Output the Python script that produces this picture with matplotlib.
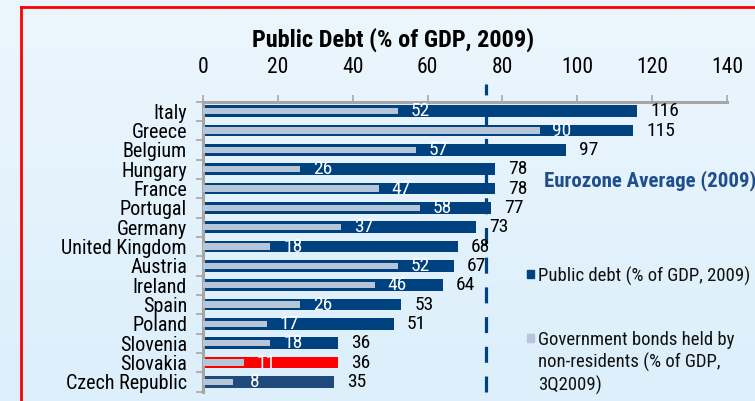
import matplotlib
matplotlib.use("Agg")
import matplotlib.pyplot as plt
from matplotlib.patches import Rectangle
from matplotlib.lines import Line2D
from matplotlib import font_manager as fm
import numpy as np

countries = ["Italy", "Greece", "Belgium", "Hungary", "France", "Portugal", "Germany",
             "United Kingdom", "Austria", "Ireland", "Spain", "Poland", "Slovenia",
             "Slovakia", "Czech Republic"]
public_debt = [116, 115, 97, 78, 78, 77, 73, 68, 67, 64, 53, 51, 36, 36, 35]
nonres_bonds = [52, 90, 57, 26, 47, 58, 37, 18, 52, 46, 26, 17, 18, 11, 8]
eurozone_avg = 75.6
x_ticks = [0, 20, 40, 60, 80, 100, 120, 140]

DARK = "#00427f"
LIGHT = "#b6c5d8"
RED = "#ff0000"
CZ = "#1f4a7c"
GRID = "#a6a6a6"

available = set(f.name for f in fm.fontManager.ttflist)
FONT = "Liberation Sans"
for cand in ["Liberation Sans Narrow", "Arial Narrow", "Roboto Condensed", "Archivo Narrow",
             "PT Sans Narrow"]:
    if cand in available:
        FONT = cand
        break
plt.rcParams['font.family'] = [FONT, 'Liberation Sans', 'DejaVu Sans']

fig = plt.figure(figsize=(7.55, 4.01), dpi=100)
fig.patch.set_facecolor("#e4f2fc")

# subtle vertical background gradient
bg = fig.add_axes([0, 0, 1, 1], zorder=-10)
top_c = np.array([0xec, 0xf6, 0xfd]) / 255.0
bot_c = np.array([0xdc, 0xef, 0xfb]) / 255.0
t = np.linspace(0, 1, 256)[:, None, None]
grad = top_c[None, None, :] * (1 - t) + bot_c[None, None, :] * t
bg.imshow(grad, aspect="auto", extent=[0, 1, 0, 1])
bg.set_axis_off()

W, H = 755, 401
ax_left, ax_right, ax_top, ax_bot = 203, 727, 101.5, 391.5
ax = fig.add_axes([ax_left / W, 1 - ax_bot / H, (ax_right - ax_left) / W, (ax_bot - ax_top) / H])
ax.set_facecolor("none")

y = np.arange(len(countries))
colors = [DARK] * len(countries)
colors[countries.index("Slovakia")] = RED
colors[countries.index("Czech Republic")] = CZ

ax.barh(y, public_debt, height=0.62, color=colors, zorder=2)
ax.barh(y, nonres_bonds, height=0.34, color=LIGHT, zorder=3)

for yi, v in zip(y, public_debt):
    ax.annotate(str(v), (v, yi), xytext=(9.5, 0), textcoords="offset points",
                ha="left", va="center", fontsize=14, color="black", zorder=5)
for yi, v in zip(y, nonres_bonds):
    ax.annotate(str(v), (v, yi), xytext=(16, 0), textcoords="offset points",
                ha="center", va="center", fontsize=14, color="white", zorder=5)

ax.set_xlim(0, 140)
ax.set_ylim(len(countries) - 0.5, -0.5)
ax.set_xticks(x_ticks)
ax.set_xticklabels([str(t) for t in x_ticks], fontsize=15.5)
ax.set_yticks(y)
ax.set_yticklabels(countries, fontsize=14.5)
ax.set_yticks(np.arange(len(countries) + 1) - 0.5, minor=True)
ax.xaxis.tick_top()
ax.tick_params(axis="x", which="major", direction="out", length=5, width=1.2, color=GRID, pad=12)
ax.tick_params(axis="y", which="major", length=0, pad=11.5)
ax.tick_params(axis="y", which="minor", direction="out", length=5, width=1.2, color=GRID)
for s in ["right", "bottom"]:
    ax.spines[s].set_visible(False)
ax.spines["top"].set_color(GRID)
ax.spines["top"].set_linewidth(2.2)
ax.spines["left"].set_color(GRID)
ax.spines["left"].set_linewidth(2.2)

# Eurozone average dashed line
ax.axvline(eurozone_avg, ymin=0, ymax=1.06, color=DARK, lw=2.3,
           dashes=(5, 4.3), zorder=4, clip_on=False)

fig.text(393 / W, 1 - 40 / H, "Public Debt (% of GDP, 2009)", ha="center", va="center",
         fontsize=17.5, fontweight="bold", color="black")
fig.text(650 / W, 1 - 181 / H, "Eurozone Average (2009)", ha="center", va="center",
         fontsize=15, fontweight="bold", color="#1f4e8c")

# legend
fig.add_artist(Rectangle((527 / W, 1 - 278 / H), 7 / W, 8 / H, transform=fig.transFigure,
                         color=DARK))
fig.text(538 / W, 1 - 276 / H, "Public debt (% of GDP, 2009)", ha="left", va="center",
         fontsize=13.5, color="#111111")
fig.add_artist(Rectangle((527 / W, 1 - 342 / H), 7 / W, 8 / H, transform=fig.transFigure,
                         color=LIGHT))
fig.text(538 / W, 1 - 331 / H, "Government bonds held by\nnon-residents (% of GDP,\n3Q2009)",
         ha="left", va="top", fontsize=13.5, color="#111111", linespacing=1.25)

# red frame
fig.add_artist(Line2D([21 / W, 21 / W], [0, 1 - 7 / H], transform=fig.transFigure, color=RED, lw=2))
fig.add_artist(Line2D([21 / W, 1], [1 - 7 / H, 1 - 7 / H], transform=fig.transFigure, color=RED, lw=2))

fig.savefig("out.png", dpi=100, facecolor=fig.get_facecolor())
